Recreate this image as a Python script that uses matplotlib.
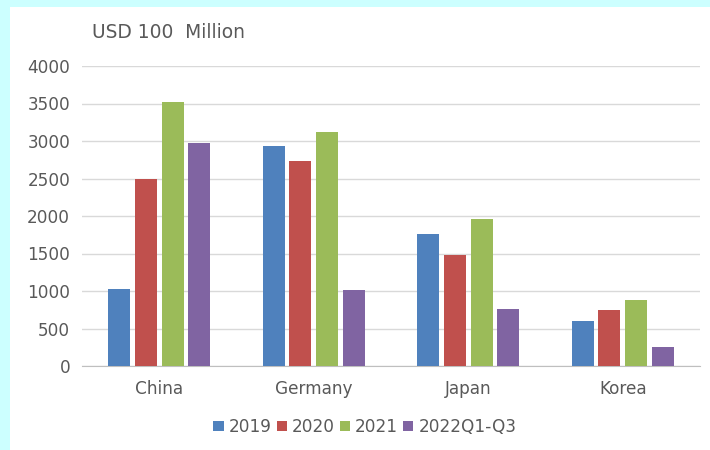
import numpy as np
import matplotlib.pyplot as plt
from matplotlib.patches import Rectangle

plt.rcParams['font.family'] = 'DejaVu Sans'

# values in USD 100 million
countries = ['China', 'Germany', 'Japan', 'Korea']
series = ['2019', '2020', '2021', '2022Q1-Q3']
v2019 = [1030, 2940, 1760, 600]
v2020 = [2490, 2730, 1480, 750]
v2021 = [3520, 3120, 1960, 880]
v2022 = [2970, 1010, 760, 260]
colors = ['#4F81BD', '#C0504D', '#9BBB59', '#8064A2']

txt = '#595959'
fontsize = 12.2

fig = plt.figure(figsize=(7.1, 4.5), dpi=100)
fig.patches.append(Rectangle((0, 0), 1, 1, transform=fig.transFigure,
                             facecolor='#ccffff', edgecolor='none', zorder=-2))
fig.patches.append(Rectangle((10/710, 0), 1, 1 - 7/450, transform=fig.transFigure,
                             facecolor='white', edgecolor='none', zorder=-1))

ax = fig.add_axes([82/710, 1 - 366/450, 618/710, 300/450])
ax.set_facecolor('none')

x = np.arange(len(countries))
slot = 0.1726
width = 0.143
for i, (vals, lab) in enumerate(zip([v2019, v2020, v2021, v2022], series)):
    ax.bar(x + (i - 1.5)*slot, vals, width, color=colors[i], label=lab, zorder=3)

ax.set_xlim(-0.5, 3.5)
ax.set_ylim(0, 4000)
ax.set_yticks(np.arange(0, 4001, 500))
ax.set_xticks(x)
ax.set_xticklabels(countries)
ax.yaxis.grid(True, color='#d9d9d9', linewidth=1)
ax.set_axisbelow(True)
for s in ['top', 'right', 'left']:
    ax.spines[s].set_visible(False)
ax.spines['bottom'].set_color('#bfbfbf')
ax.tick_params(axis='both', length=0, labelsize=fontsize, colors=txt)
ax.tick_params(axis='y', pad=8.5)
ax.tick_params(axis='x', pad=10)

fig.text(92/710, 1 - 32/450, 'USD 100  Million', fontsize=13.4,
         color=txt, va='center', ha='left')

ax.legend(loc='center', bbox_to_anchor=(365/710, 1 - 427/450),
          bbox_transform=fig.transFigure, ncol=4, frameon=False,
          handlelength=0.6, handleheight=0.6, handletextpad=0.3,
          columnspacing=0.3, fontsize=fontsize, labelcolor=txt)

fig.savefig('out.png', dpi=100)
